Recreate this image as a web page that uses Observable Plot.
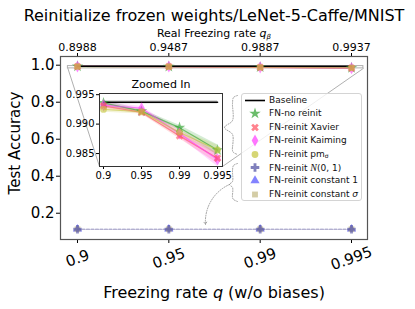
<!DOCTYPE html>
<html><head><meta charset="utf-8">
<script src="https://cdn.jsdelivr.net/npm/d3@7"></script>
<script src="https://cdn.jsdelivr.net/npm/@observablehq/plot@0.6"></script>
<style>
body{margin:0;background:#fff;font-family:"DejaVu Sans",sans-serif;}
#wrap{position:relative;width:415px;height:309px;overflow:hidden;background:#fff;}
#wrap > *{position:absolute;}
.leg{left:241px;top:93px;width:121px;height:108px;box-sizing:border-box;border:1px solid #d4d4d4;border-radius:3px;background:rgba(255,255,255,0.8);}
.row{position:absolute;left:0;height:13px;font-size:9px;line-height:13px;white-space:nowrap;color:#111;}
.row svg{position:absolute;left:1px;top:0;}
.row span{position:absolute;left:27px;top:0;}
</style></head><body><div id="wrap"></div>
<script>
// ---- data ----
const xLabels = ["0.9", "0.95", "0.99", "0.995"];
const qBetaLabels = ["0.8988", "0.9487", "0.9887", "0.9937"];
const baselineMean = [0.9937, 0.9937, 0.9937, 0.9937];
const baselineStd = [0.0003, 0.0003, 0.0003, 0.0003];
const noReinit = [0.9936, 0.9922, 0.9894, 0.9856];
const noReinitStd = [0.0004, 0.0003, 0.0004, 0.0009];
const xavier = [0.9931, 0.9920, 0.9880, 0.9842];
const xavierStd = [0.0004, 0.0003, 0.0005, 0.0009];
const kaiming = [0.9932, 0.9927, 0.9884, 0.9840];
const kaimingStd = [0.0005, 0.0003, 0.0006, 0.0012];
const pmSigma = [0.9925, 0.9921, 0.9886, 0.9856];
const pmSigmaStd = [0.0005, 0.0004, 0.0005, 0.0008];
const normal01 = [0.1135, 0.1135, 0.1135, 0.1135];
const normal01Std = [0, 0, 0, 0];
const const1 = [0.1135, 0.1135, 0.1135, 0.1135];
const const1Std = [0, 0, 0, 0];
const constSigma = [0.1135, 0.1135, 0.1135, 0.1135];
const constSigmaStd = [0, 0, 0, 0];
const seriesNames = ["FN-no reinit", "FN-reinit Xavier", "FN-reinit Kaiming", "FN-reinit pm_σ", "FN-reinit N(0, 1)", "FN-reinit constant 1", "FN-reinit constant σ"];
const seriesLabelsHTML = ["FN-no reinit", "FN-reinit Xavier", "FN-reinit Kaiming", "FN-reinit pm<sub style='font-size:6px;vertical-align:-1px'>σ</sub>", "FN-reinit <i style='font-family:\"Liberation Serif\",serif;font-size:10px'>N</i>(0, 1)", "FN-reinit constant 1", "FN-reinit constant <i>σ</i>"];
const seriesColors = ["#2ca02c", "#ff4f5e", "#ff3cff", "#c4c43a", "#4a4aa0", "#4f4fff", "#c2b880"];
const title = "Reinitialize frozen weights/LeNet-5-Caffe/MNIST";

// ---- symbols ----
function rot(pts, a) { const c = Math.cos(a), s = Math.sin(a); return pts.map(([x, y]) => [x * c - y * s, x * s + y * c]); }
function poly(ctx, pts) { ctx.moveTo(pts[0][0], pts[0][1]); for (const p of pts.slice(1)) ctx.lineTo(p[0], p[1]); ctx.closePath(); }
const symX = { draw(ctx, size) { const r = Math.sqrt(size / 5) / 2; poly(ctx, rot([[-3*r,-r],[-r,-r],[-r,-3*r],[r,-3*r],[r,-r],[3*r,-r],[3*r,r],[r,r],[r,3*r],[-r,3*r],[-r,r],[-3*r,r]], Math.PI / 4)); } };
const symThinDiamond = { draw(ctx, size) { const h = Math.sqrt(size) * 0.95; const w = h * 0.55; poly(ctx, [[0,-h],[w,0],[0,h],[-w,0]]); } };
const seriesSymbols = [d3.symbolStar, symX, symThinDiamond, d3.symbolCircle, d3.symbolCross, d3.symbolTriangle, d3.symbolSquare];
const seriesR = [3.6, 3.4, 3.6, 3.4, 3.6, 3.4, 3.3];
const dotOrder = [0, 2, 1, 3, 5, 6, 4];

const means = [noReinit, xavier, kaiming, pmSigma, normal01, const1, constSigma];
const stds = [noReinitStd, xavierStd, kaimingStd, pmSigmaStd, normal01Std, const1Std, constSigmaStd];
const rows = seriesNames.flatMap((s, k) => means[k].map((m, i) => ({ s, k, i, m, lo: m - stds[k][i], hi: m + stds[k][i] })));
const baseRows = baselineMean.map((m, i) => ({ i, m, lo: m - baselineStd[i], hi: m + baselineStd[i] }));

function seriesMarks(opts = {}) {
  const out = [];
  seriesNames.forEach((s, k) => {
    const d = rows.filter(r => r.k === k);
    out.push(Plot.areaY(d, { x: "i", y1: "lo", y2: "hi", fill: seriesColors[k], fillOpacity: 0.2, ...opts }));
  });
  seriesNames.forEach((s, k) => {
    const d = rows.filter(r => r.k === k);
    out.push(Plot.line(d, { x: "i", y: "m", stroke: seriesColors[k], strokeOpacity: k >= 4 ? 0.35 : 0.6, strokeWidth: 1.2, strokeDasharray: k >= 4 ? "3,1.5" : null, ...opts }));
  });
  out.push(Plot.areaY(baseRows, { x: "i", y1: "lo", y2: "hi", fill: "#888", fillOpacity: 0.3, ...opts }));
  out.push(Plot.line(baseRows, { x: "i", y: "m", stroke: "#000", strokeWidth: 1.5, ...opts }));
  dotOrder.forEach(k => {
    const d = rows.filter(r => r.k === k);
    out.push(Plot.dot(d, { x: "i", y: "m", symbol: seriesSymbols[k], r: seriesR[k], fill: seriesColors[k], fillOpacity: 0.6, stroke: "none", ...opts }));
  });
  return out;
}

// ---- layout ----
const W = 415, H = 309, mT = 56, mR = 48, mB = 70, mL = 60;
const xDom = [-0.186, 3.175], yDom = [0.058, 1.047];
const inset = { left: 60, top: 70, width: 170, height: 115, mL: 39, mR: 8, mT: 23, mB: 19 };
const insetXDom = [-0.105, 3.13], insetYDom = [0.9828, 0.9952];
const sx = Plot.scale({ x: { domain: xDom, range: [mL, W - mR] } });
const sy = Plot.scale({ y: { domain: yDom, range: [H - mB, mT] } });
const iL = inset.left + inset.mL, iR = inset.left + inset.width - inset.mR, iB = inset.top + inset.height - inset.mB;
const connectors = [
  [{ x: insetXDom[0], y: insetYDom[0] }, { x: sx.invert(iL), y: sy.invert(iB) }],
  [{ x: insetXDom[1], y: insetYDom[0] }, { x: sx.invert(iR), y: sy.invert(iB) }]
];
const P = (px, py) => ({ x: sx.invert(px), y: sy.invert(py) });
const braceTop = [P(237,95),P(233,97),P(232,103),P(232,120),P(224,127),P(232,134),P(232,150),P(233,152),P(237,154)];
const braceBot = [P(237,163),P(233,165),P(232,170),P(232,181),P(229,184),P(232,187),P(232,197),P(233,199),P(237,201)];
const T = { lineAnchor: "middle", textAnchor: "middle" };

const main = Plot.plot({
  width: W, height: H, marginTop: mT, marginRight: mR, marginBottom: mB, marginLeft: mL,
  style: { fontFamily: "DejaVu Sans", fontSize: "15px", color: "#000", background: "transparent" },
  x: { domain: xDom }, y: { domain: yDom },
  marks: [
    Plot.axisY({ ticks: [0.2, 0.4, 0.6, 0.8, 1.0], tickFormat: ".1f", tickSize: 4, tickPadding: 2, label: null, fontSize: 15 }),
    Plot.axisX({ anchor: "top", ticks: [0, 1, 2, 3], tickFormat: i => qBetaLabels[i], tickSize: 4, tickPadding: 2, label: null, fontSize: 11 }),
    Plot.axisX({ anchor: "bottom", ticks: [0, 1, 2, 3], tickFormat: () => "", tickSize: 4, label: null }),
    Plot.text(xLabels, { x: (d, i) => i, frameAnchor: "bottom", dy: 19, rotate: -20, fontSize: 15, ...T }),
    Plot.text([title], { frameAnchor: "top", dy: -41, fontSize: 16, ...T }),
    Plot.text(["Real Freezing rate qβ"], { frameAnchor: "top", dy: -23, fontSize: 11, ...T }),
    Plot.text(["Freezing rate q (w/o biases)"], { frameAnchor: "bottom", dy: 53, fontSize: 16, ...T }),
    Plot.text(["Test Accuracy"], { frameAnchor: "left", dx: -45, dy: -5, rotate: -90, fontSize: 15, ...T }),
    Plot.rect([0], { x1: insetXDom[0], x2: insetXDom[1], y1: insetYDom[0], y2: insetYDom[1], stroke: "#b0b0b0", fill: "none", strokeWidth: 1 }),
    ...connectors.map(c => Plot.line(c, { x: "x", y: "y", stroke: "#b0b0b0", strokeWidth: 1 })),
    Plot.line(braceTop, { x: "x", y: "y", curve: "catmull-rom", stroke: "#888", strokeWidth: 0.8, strokeDasharray: "1,1.5" }),
    Plot.line(braceBot, { x: "x", y: "y", curve: "catmull-rom", stroke: "#888", strokeWidth: 0.8, strokeDasharray: "1,1.5" }),
    Plot.arrow([0], { x1: sx.invert(229), y1: sy.invert(184), x2: sx.invert(205), y2: sy.invert(224), bend: -35, stroke: "#888", strokeWidth: 0.8, strokeDasharray: "1,1.5", headLength: 5 }),
    ...seriesMarks(),
    Plot.frame({ stroke: "#555", strokeWidth: 1.2 })
  ]
});
main.style.left = "0px"; main.style.top = "0px";
d3.select(main).selectAll("text").filter(function () { return this.textContent === "Real Freezing rate qβ"; })
  .html("Real Freezing rate <tspan font-style='italic'>q</tspan><tspan font-style='italic' font-size='7' dy='2'>β</tspan>");
d3.select(main).selectAll("text").filter(function () { return this.textContent === "Freezing rate q (w/o biases)"; })
  .html("Freezing rate <tspan font-style='italic'>q</tspan> (w/o biases)");

const insetPlot = Plot.plot({
  width: inset.width, height: inset.height,
  marginTop: inset.mT, marginRight: inset.mR, marginBottom: inset.mB, marginLeft: inset.mL,
  style: { fontFamily: "DejaVu Sans", fontSize: "10px", color: "#000", background: "transparent", overflow: "visible" },
  x: { domain: insetXDom }, y: { domain: insetYDom },
  marks: [
    Plot.frame({ fill: "#fff", stroke: "none" }),
    Plot.axisY({ ticks: [0.985, 0.99, 0.995], tickFormat: ".3f", tickSize: 3, tickPadding: 2, label: null, fontSize: 10 }),
    Plot.axisX({ ticks: [0, 1, 2, 3], tickFormat: i => xLabels[i], tickSize: 3, tickPadding: 2, label: null, fontSize: 10 }),
    Plot.text(["Zoomed In"], { frameAnchor: "top", dy: -9, fontSize: 11, ...T }),
    ...seriesMarks({ clip: true }),
    Plot.frame({ stroke: "#333", strokeWidth: 1 })
  ]
});
insetPlot.style.left = inset.left + "px"; insetPlot.style.top = inset.top + "px";

const wrap = document.getElementById("wrap");
wrap.appendChild(main);
wrap.appendChild(insetPlot);

// ---- legend ----
const leg = document.createElement("div");
leg.className = "leg";
const legendEntries = [{ html: "Baseline", line: true }].concat(seriesLabelsHTML.map((h, k) => ({ html: h, k })));
legendEntries.forEach((e, j) => {
  const row = document.createElement("div");
  row.className = "row";
  row.style.top = (j * 13.4) + "px";
  const svg = d3.create("svg").attr("width", 24).attr("height", 13);
  if (e.line) svg.append("line").attr("x1", 2).attr("x2", 22).attr("y1", 6.5).attr("y2", 6.5).attr("stroke", "#000").attr("stroke-width", 1.6);
  else {
    const r = seriesR[e.k];
    svg.append("path").attr("transform", "translate(12,6.5)")
      .attr("d", d3.symbol(seriesSymbols[e.k], Math.PI * r * r)())
      .attr("fill", seriesColors[e.k]).attr("fill-opacity", 0.7);
  }
  row.appendChild(svg.node());
  const sp = document.createElement("span");
  sp.innerHTML = e.html;
  row.appendChild(sp);
  leg.appendChild(row);
});
wrap.appendChild(leg);
</script></body></html>
